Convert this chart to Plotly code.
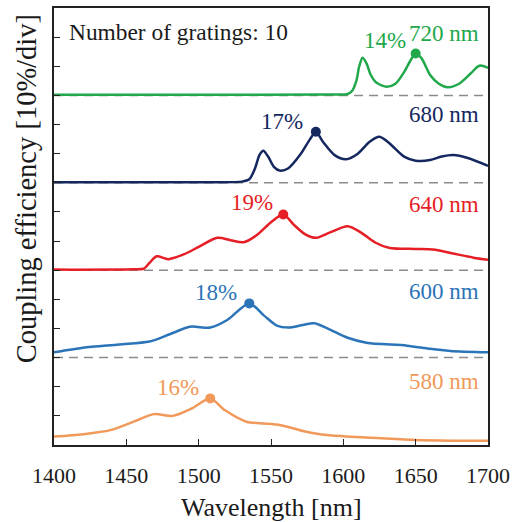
import plotly.graph_objects as go

# ---- data (coupling efficiency in %, vs wavelength in nm) ----
wl_580 = [1400, 1420, 1439, 1455, 1469, 1482, 1495, 1508, 1518, 1533, 1545, 1554, 1562, 1572, 1585, 1600, 1620, 1650, 1675, 1700]
ce_580 = [2.9, 3.7, 5.1, 8.0, 10.6, 10.0, 12.5, 16.0, 12.0, 8.0, 7.4, 7.0, 6.2, 4.8, 3.6, 3.0, 2.5, 1.7, 1.5, 1.5]

wl_600 = [1400, 1405, 1420, 1445, 1466, 1480, 1494, 1508, 1520, 1535, 1545, 1554, 1562, 1572, 1580, 1590, 1603, 1616, 1644, 1660, 1674, 1700]
ce_600 = [1.8, 2.2, 3.4, 4.5, 5.5, 8.0, 10.6, 10.3, 13.0, 18.6, 14.5, 11.0, 10.3, 11.2, 11.8, 9.8, 6.8, 5.1, 4.1, 3.0, 2.3, 1.8]

wl_640 = [1400, 1455, 1462, 1466, 1471, 1479, 1490, 1500, 1513, 1522, 1531, 1540, 1550, 1558.5, 1566, 1574, 1581, 1590, 1603, 1612, 1622, 1632, 1650, 1662, 1675, 1690, 1700]
ce_640 = [0.2, 0.3, 0.5, 2.5, 4.8, 3.8, 5.5, 8.0, 11.1, 10.3, 9.6, 12.0, 16.5, 19.1, 15.5, 12.2, 11.1, 12.8, 15.1, 13.0, 9.5, 7.6, 7.3, 7.1, 5.8, 4.3, 3.6]

wl_680 = [1400, 1500, 1530, 1535, 1539, 1542, 1544.7, 1548, 1552, 1556, 1562, 1570, 1577, 1581, 1586, 1594, 1602, 1610, 1618, 1625, 1632, 1642, 1650, 1660, 1668, 1676, 1686, 1700]
ce_680 = [0.2, 0.2, 0.4, 1.2, 5.0, 9.5, 11.0, 9.0, 5.5, 4.2, 5.0, 9.5, 15.0, 17.5, 14.0, 9.5, 8.1, 10.0, 14.0, 15.8, 13.5, 9.0, 7.6, 7.8, 9.0, 9.5, 8.5, 5.8]

wl_720 = [1400, 1500, 1590, 1603, 1606, 1609, 1611, 1613.3, 1616, 1619, 1623, 1630, 1636, 1642, 1647, 1650, 1654, 1660, 1666, 1672, 1680, 1688, 1694, 1700]
ce_720 = [0.2, 0.2, 0.3, 0.5, 1.5, 5.0, 10.0, 12.9, 11.0, 7.0, 4.3, 3.0, 4.0, 8.0, 12.5, 14.4, 12.8, 7.0, 4.0, 2.8, 4.0, 7.5, 10.2, 9.5]

series_names = ["580 nm", "600 nm", "640 nm", "680 nm", "720 nm"]
peak_labels = ["16%", "18%", "19%", "17%", "14%"]
peak_wl = [1508, 1535, 1558.5, 1581, 1650]
peak_ce = [16.0, 18.6, 19.1, 17.5, 14.4]
offsets = [0, 30, 60, 90, 120]
colors = ["#f0995a", "#2b74b8", "#e61e25", "#14275f", "#21a84b"]

wls = [wl_580, wl_600, wl_640, wl_680, wl_720]
ces = [ce_580, ce_600, ce_640, ce_680, ce_720]

# label positions (in data coordinates, relative to each offset)
peak_label_wl = [1485.7, 1511.7, 1537, 1557.8, 1628.7]
peak_label_dy = [19.6, 22.4, 23.1, 21.0, 18.8]
name_label_dy = [21.7, 22.6, 22.7, 23.3, 21.4]

FONT = "Liberation Serif"
TXT = "#1a1a1a"

fig = go.Figure()

# dashed baselines
for off in offsets[1:]:
    fig.add_shape(type="line", xref="x", yref="y", x0=1400, x1=1700, y0=off, y1=off,
                  line=dict(color="#8c8c8c", width=1.5, dash="9px,6px"), layer="below")

for i in range(5):
    fig.add_trace(go.Scatter(
        x=wls[i], y=[v + offsets[i] for v in ces[i]], mode="lines",
        line=dict(color=colors[i], width=2.5, shape="spline", smoothing=0.8),
        name=series_names[i], showlegend=False, hoverinfo="skip"))
    fig.add_trace(go.Scatter(
        x=[peak_wl[i]], y=[peak_ce[i] + offsets[i]], mode="markers",
        marker=dict(color=colors[i], size=10), showlegend=False, hoverinfo="skip"))
    fig.add_annotation(x=peak_label_wl[i], y=peak_label_dy[i] + offsets[i], text=peak_labels[i],
                       showarrow=False, font=dict(family=FONT, size=23, color=colors[i]),
                       xanchor="center", yanchor="middle")
    fig.add_annotation(x=1695, y=name_label_dy[i] + offsets[i], text=series_names[i],
                       showarrow=False, font=dict(family=FONT, size=23, color=colors[i]),
                       xanchor="right", yanchor="middle")

fig.add_annotation(x=1409, y=141.8, text="Number of gratings: 10", showarrow=False,
                   font=dict(family=FONT, size=23.4, color=TXT), xanchor="left", yanchor="middle")

# axis titles as annotations (positioned like the reference)
fig.add_annotation(xref="paper", yref="paper", x=0.5016, y=-0.142, text="Wavelength [nm]",
                   showarrow=False, font=dict(family=FONT, size=26, color=TXT),
                   xanchor="center", yanchor="middle")
fig.add_annotation(xref="paper", yref="paper", x=-0.0645, y=0.585, text="Coupling efficiency [10%/div]",
                   showarrow=False, textangle=-90, font=dict(family=FONT, size=28.5, color=TXT),
                   xanchor="center", yanchor="middle")

fig.update_layout(
    width=512, height=522,
    margin=dict(l=54, r=24, t=8, b=77, autoexpand=False),
    plot_bgcolor="white", paper_bgcolor="white",
    font=dict(family=FONT, color=TXT),
)
fig.update_xaxes(range=[1400, 1700], dtick=50, tick0=1400, ticks="inside", ticklen=6,
                 tickwidth=1.2, tickcolor="#222", showline=True, linecolor="#222", linewidth=1.5,
                 mirror=True, showgrid=False, zeroline=False, automargin=False,
                 ticklabelstandoff=10,
                 tickfont=dict(family=FONT, size=22, color=TXT))
fig.update_yaxes(range=[0, 150], dtick=10, tick0=0, ticks="inside", ticklen=6,
                 tickwidth=1.2, tickcolor="#222", showline=True, linecolor="#222", linewidth=1.5,
                 mirror=True, showgrid=False, zeroline=False, showticklabels=False, automargin=False)

fig.write_html("out.html", config={"displayModeBar": False},
               post_script="document.body.style.margin='0px';")
